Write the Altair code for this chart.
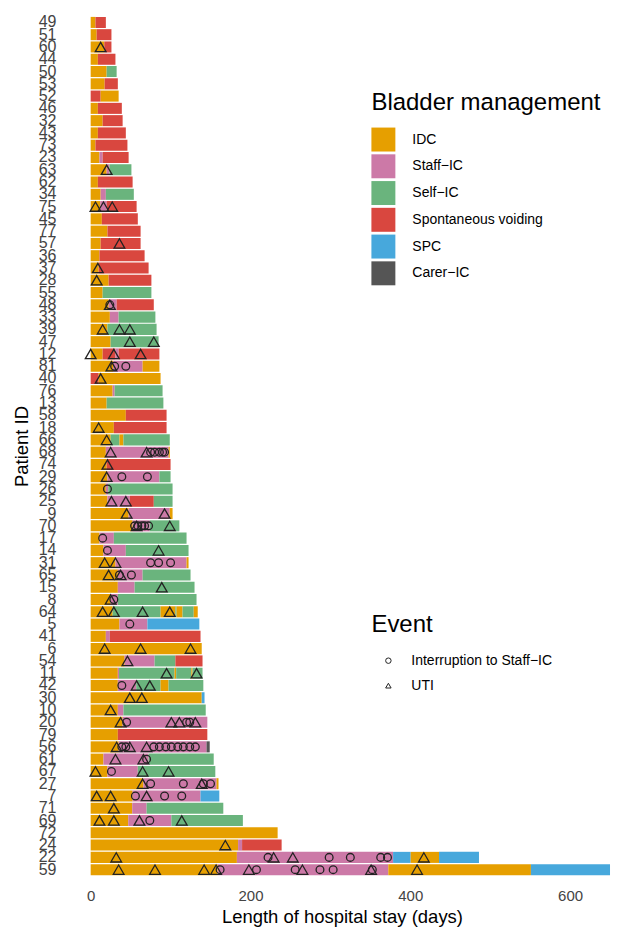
import altair as alt
import pandas as pd

# ---------------- data ----------------
patient_order = ["49", "51", "60", "44", "50", "53", "52", "46", "32", "43",
                 "73", "23", "63", "62", "34", "75", "45", "77", "57", "36",
                 "37", "28", "55", "48", "33", "39", "47", "12", "81", "40",
                 "76", "13", "58", "18", "66", "68", "74", "29", "26", "25",
                 "9", "70", "17", "14", "31", "65", "15", "8", "64", "5",
                 "41", "6", "54", "11", "42", "30", "10", "20", "79", "56",
                 "61", "67", "27", "7", "71", "69", "72", "24", "22", "59"]

management_types = ["IDC", "Staff−IC", "Self−IC", "Spontaneous voiding", "SPC", "Carer−IC"]
management_colors = ["#E69F00", "#CC79A7", "#6AB47D", "#D9473F", "#47A8DC", "#555555"]

I, P, S, V, B, C = management_types

# (patient, management, start day, end day)
segments = [
    ("49", I, 0, 6), ("49", V, 6, 19),
    ("51", I, 0, 7.5), ("51", V, 7.5, 26),
    ("60", I, 0, 17), ("60", V, 17, 26),
    ("44", I, 0, 9), ("44", V, 9, 31),
    ("50", I, 0, 20), ("50", S, 20, 32.5),
    ("53", I, 0, 17.5), ("53", V, 17.5, 34),
    ("52", V, 0, 12.5), ("52", I, 12.5, 35),
    ("46", I, 0, 9), ("46", V, 9, 39),
    ("32", I, 0, 15), ("32", V, 15, 40),
    ("43", I, 0, 9), ("43", V, 9, 44),
    ("73", I, 0, 6), ("73", V, 6, 46),
    ("23", I, 0, 11), ("23", P, 11, 15), ("23", V, 15, 47.5),
    ("63", I, 0, 20), ("63", P, 20, 23.5), ("63", S, 23.5, 51),
    ("62", I, 0, 9), ("62", V, 9, 52.5),
    ("34", I, 0, 12.5), ("34", P, 12.5, 19), ("34", S, 19, 54),
    ("75", I, 0, 12), ("75", P, 12, 20), ("75", V, 20, 57.5),
    ("45", I, 0, 14), ("45", V, 14, 59),
    ("77", I, 0, 21), ("77", V, 21, 62.5),
    ("57", I, 0, 12.5), ("57", V, 12.5, 62.5),
    ("36", I, 0, 11), ("36", V, 11, 67.5),
    ("37", I, 0, 10), ("37", V, 10, 72.5),
    ("28", I, 0, 22.5), ("28", V, 22.5, 76),
    ("55", I, 0, 15), ("55", S, 15, 76),
    ("48", I, 0, 22.5), ("48", P, 22.5, 32.5), ("48", V, 32.5, 79),
    ("33", I, 0, 24), ("33", P, 24, 35), ("33", S, 35, 81),
    ("39", I, 0, 21), ("39", S, 21, 82.5),
    ("47", I, 0, 25), ("47", S, 25, 85),
    ("12", I, 0, 15), ("12", V, 15, 31), ("12", P, 31, 35), ("12", V, 35, 86),
    ("81", I, 0, 28), ("81", P, 28, 65), ("81", I, 65, 86),
    ("40", V, 0, 10), ("40", I, 10, 87.5),
    ("76", I, 0, 27.5), ("76", P, 27.5, 30), ("76", S, 30, 90),
    ("13", I, 0, 20), ("13", S, 20, 91),
    ("58", I, 0, 44), ("58", V, 44, 95),
    ("18", I, 0, 29), ("18", V, 29, 95),
    ("66", I, 0, 25), ("66", S, 25, 36), ("66", I, 36, 41), ("66", S, 41, 99),
    ("68", I, 0, 19), ("68", P, 19, 97.5), ("68", I, 97.5, 99),
    ("74", I, 0, 20), ("74", V, 20, 100),
    ("29", I, 0, 21), ("29", P, 21, 86), ("29", S, 86, 100),
    ("26", I, 0, 19), ("26", P, 19, 22), ("26", S, 22, 102.5),
    ("25", I, 0, 21), ("25", P, 21, 49), ("25", V, 49, 79), ("25", S, 79, 102.5),
    ("9", I, 0, 47.5), ("9", P, 47.5, 99), ("9", I, 99, 102.5),
    ("70", I, 0, 52.5), ("70", P, 52.5, 74), ("70", S, 74, 111),
    ("17", I, 0, 11), ("17", P, 11, 29), ("17", S, 29, 120),
    ("14", I, 0, 16), ("14", P, 16, 44), ("14", S, 44, 122.5),
    ("31", I, 0, 31), ("31", P, 31, 120), ("31", I, 120, 122.5),
    ("65", I, 0, 34), ("65", P, 34, 65), ("65", S, 65, 125),
    ("15", I, 0, 34), ("15", P, 34, 55), ("15", S, 55, 130),
    ("8", I, 0, 25), ("8", P, 25, 34), ("8", S, 34, 132.5),
    ("64", I, 0, 27.5), ("64", S, 27.5, 87.5), ("64", I, 87.5, 106), ("64", S, 106, 107.5),
    ("64", I, 107.5, 115), ("64", S, 115, 129), ("64", I, 129, 134),
    ("5", I, 0, 36), ("5", P, 36, 71), ("5", B, 71, 136),
    ("41", I, 0, 19), ("41", P, 19, 24), ("41", V, 24, 137.5),
    ("6", I, 0, 139),
    ("54", I, 0, 42.5), ("54", P, 42.5, 80), ("54", S, 80, 106), ("54", V, 106, 140),
    ("11", I, 0, 34), ("11", P, 34, 35.5), ("11", S, 35.5, 105), ("11", I, 105, 107),
    ("11", S, 107, 126), ("11", I, 126, 127.5), ("11", S, 127.5, 140),
    ("42", I, 0, 34), ("42", P, 34, 57), ("42", S, 57, 87.5), ("42", I, 87.5, 97.5), ("42", S, 97.5, 141),
    ("30", I, 0, 139), ("30", B, 139, 142.5),
    ("10", I, 0, 34), ("10", P, 34, 41), ("10", S, 41, 144),
    ("20", I, 0, 40), ("20", P, 40, 146),
    ("79", I, 0, 34), ("79", V, 34, 146),
    ("56", I, 0, 35), ("56", P, 35, 145), ("56", C, 145, 149),
    ("61", I, 0, 16), ("61", P, 16, 72.5), ("61", S, 72.5, 154),
    ("67", I, 0, 21), ("67", P, 21, 59), ("67", S, 59, 156),
    ("27", I, 0, 66), ("27", P, 66, 157.5), ("27", I, 157.5, 160),
    ("7", I, 0, 52.5), ("7", P, 52.5, 137.5), ("7", B, 137.5, 161),
    ("71", I, 0, 52), ("71", P, 52, 70), ("71", S, 70, 166),
    ("69", I, 0, 47), ("69", P, 47, 101), ("69", S, 101, 190.5),
    ("72", I, 0, 234),
    ("24", I, 0, 184.5), ("24", P, 184.5, 189.5), ("24", V, 189.5, 239),
    ("22", I, 0, 183), ("22", P, 183, 378.5), ("22", B, 378.5, 400.5), ("22", I, 400.5, 436), ("22", B, 436, 486),
    ("59", I, 0, 159), ("59", P, 159, 372.5), ("59", I, 372.5, 551), ("59", B, 551, 650),
]

event_types = ["Interruption to Staff−IC", "UTI"]

# (patient, day)
uti_events = [
    ("60", 12.5), ("63", 20), ("75", 6), ("75", 16), ("75", 27), ("57", 36),
    ("37", 9), ("28", 7.5), ("48", 24), ("39", 15), ("39", 36), ("39", 49),
    ("47", 49), ("47", 79), ("12", 0), ("12", 29), ("12", 62.5), ("81", 26),
    ("40", 12.5), ("18", 10), ("66", 20), ("68", 25), ("68", 70), ("74", 21),
    ("29", 20), ("25", 26), ("25", 44), ("9", 45), ("9", 92.5), ("70", 57.5),
    ("70", 99), ("14", 85), ("31", 17.5), ("31", 31), ("65", 22.5), ("65", 37.5),
    ("15", 89), ("8", 25), ("64", 15), ("64", 29), ("64", 65), ("64", 99),
    ("6", 17.5), ("6", 62.5), ("6", 125), ("54", 46), ("11", 95), ("11", 132.5),
    ("42", 57.5), ("42", 74), ("30", 49), ("30", 64), ("10", 25),
    ("20", 37.5), ("20", 101), ("20", 111), ("20", 131),
    ("56", 32.5), ("56", 49), ("56", 70), ("61", 31), ("61", 66),
    ("67", 6), ("67", 65), ("67", 97.5), ("27", 65), ("27", 139),
    ("7", 7.5), ("7", 25), ("7", 70), ("71", 29),
    ("69", 11), ("69", 29), ("69", 61), ("69", 114), ("24", 168.5),
    ("22", 32), ("22", 229), ("22", 253), ("22", 417),
    ("59", 35), ("59", 80.5), ("59", 142), ("59", 157), ("59", 198), ("59", 265),
    ("59", 351), ("59", 408.5),
]

interruption_events = [
    ("48", 24), ("81", 30), ("81", 44),
    ("68", 75), ("68", 80), ("68", 86), ("68", 90), ("68", 92.5),
    ("29", 39), ("29", 71), ("26", 21),
    ("70", 55), ("70", 59), ("70", 64), ("70", 67.5), ("70", 72.5),
    ("17", 15), ("14", 21), ("31", 75), ("31", 85), ("31", 100),
    ("65", 36), ("65", 51), ("8", 29), ("5", 49), ("42", 39),
    ("20", 45), ("20", 120), ("20", 124),
    ("56", 39), ("56", 44), ("56", 79), ("56", 86), ("56", 94), ("56", 101),
    ("56", 109), ("56", 116), ("56", 124), ("56", 131),
    ("61", 70), ("67", 26), ("27", 75), ("27", 116), ("27", 141), ("27", 150),
    ("7", 56), ("7", 92.5), ("7", 114), ("69", 74),
    ("22", 222), ("22", 298.5), ("22", 325), ("22", 363), ("22", 371.5),
    ("59", 162), ("59", 207.5), ("59", 256), ("59", 287), ("59", 303.5), ("59", 352.5),
]

# ---------------- tables ----------------
bars_df = pd.DataFrame(segments, columns=["patient", "management", "start", "end"])
circ_df = pd.DataFrame([(p, d, event_types[0]) for p, d in interruption_events],
                       columns=["patient", "day", "event"])
tri_df = pd.DataFrame([(p, d, event_types[1]) for p, d in uti_events],
                      columns=["patient", "day", "event"])

FONT = "Liberation Sans"

y_enc = alt.Y(
    "patient:N",
    sort=patient_order,
    scale=alt.Scale(domain=patient_order, paddingInner=0.1, paddingOuter=0.5),
    axis=alt.Axis(title="Patient ID", ticks=False, domain=False, grid=False,
                  labelFontSize=16, labelColor="#444444", labelPadding=10,
                  labelFont=FONT, titleFont=FONT, titleFontSize=18.5,
                  titleFontWeight="normal", titleColor="#000000", titlePadding=7),
)

x_scale = alt.Scale(domain=[-31, 660], nice=False, zero=False)

bars = alt.Chart(bars_df).mark_bar().encode(
    x=alt.X("start:Q", scale=x_scale,
            axis=alt.Axis(title="Length of hospital stay (days)", values=[0, 200, 400, 600],
                          grid=False, domain=False, ticks=False,
                          labelFontSize=15, labelColor="#444444", labelPadding=7,
                          labelFont=FONT, titleFont=FONT, titleFontSize=18.5,
                          titleFontWeight="normal", titleColor="#000000", titlePadding=4)),
    x2="end:Q",
    y=y_enc,
    color=alt.Color("management:N",
                    scale=alt.Scale(domain=management_types, range=management_colors),
                    legend=alt.Legend(title="Bladder management", orient="none",
                                      legendX=306, legendY=80, padding=0,
                                      symbolType="square", symbolSize=576,
                                      symbolStrokeWidth=0, rowPadding=2.8,
                                      labelOffset=17, titlePadding=13,
                                      titleLimit=500, labelLimit=400,
                                      titleFontSize=24, titleFontWeight="normal",
                                      titleFont=FONT, titleColor="#000000",
                                      labelFont=FONT, labelFontSize=14,
                                      labelColor="#000000")),
)

shape_enc = alt.Shape(
    "event:N",
    scale=alt.Scale(domain=event_types, range=["circle", "triangle-up"]),
    legend=alt.Legend(title="Event", orient="none",
                      legendX=306, legendY=603, padding=0,
                      symbolSize=30, symbolStrokeWidth=1,
                      symbolStrokeColor="#222222", symbolFillColor="transparent",
                      symbolOffset=10, labelOffset=16,
                      rowPadding=11, titlePadding=17,
                      titleLimit=500, labelLimit=400,
                      titleFontSize=24, titleFontWeight="normal",
                      titleFont=FONT, titleColor="#000000",
                      labelFont=FONT, labelFontSize=14,
                      labelColor="#000000"),
)

circles = alt.Chart(circ_df).mark_point(filled=False, stroke="#222222", strokeWidth=1.3,
                                        opacity=1, size=60).encode(
    x=alt.X("day:Q", scale=x_scale),
    y=y_enc,
    shape=shape_enc,
)

triangles = alt.Chart(tri_df).mark_point(filled=False, stroke="#222222", strokeWidth=1.3,
                                         opacity=1, size=115).encode(
    x=alt.X("day:Q", scale=x_scale),
    y=y_enc,
    shape=shape_enc,
)

chart = alt.layer(bars, circles, triangles).properties(
    width=553,
    height=872,
    autosize=alt.AutoSizeParams(type="none"),
    padding={"left": 58, "top": 2, "right": 0, "bottom": 45},
    background="white",
).configure_view(stroke=None)

chart.save("out.html", embed_options={"renderer": "svg", "actions": False})
